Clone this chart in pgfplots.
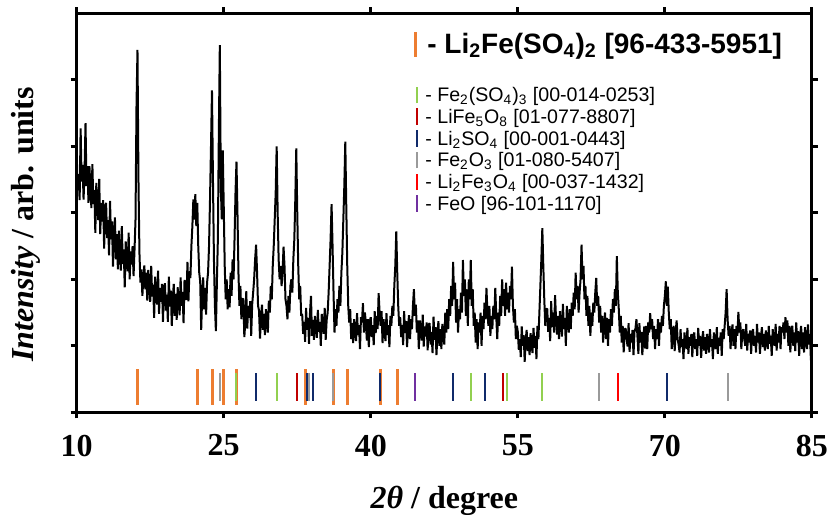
\documentclass[border=0pt]{standalone}
\usepackage{pgfplots}
\pgfplotsset{compat=1.18}
\usepackage{fontspec}
\setmainfont{Liberation Serif}
\newfontfamily\arialfont{Liberation Sans}
\definecolor{cOr}{HTML}{ED7D31}
\definecolor{cGr}{HTML}{92D050}
\definecolor{cDr}{HTML}{C00000}
\definecolor{cNv}{HTML}{102A6A}
\definecolor{cGy}{HTML}{9A9A9A}
\definecolor{cRd}{HTML}{FF0000}
\definecolor{cPu}{HTML}{7030A0}
\begin{document}
\begin{tikzpicture}
\begin{axis}[
  at={(0,0)}, anchor=south west,
  scale only axis, width=367.6pt, height=199.5pt,
  xmin=10, xmax=85, ymin=0, ymax=6,
  xtick={10,25,40,55,70,85},
  ytick={0,1,2,3,4,5}, yticklabels={},
  tick align=outside, major tick length=3pt,
  axis line style={line width=1.5pt},
  every tick/.style={black, line width=1.5pt},
  /pgf/number format/assume math mode=true,
  ticklabel style={font=\fontsize{16}{19}\selectfont\bfseries},
  xticklabel style={yshift=-4.7pt},
  xlabel={\fontsize{16}{19}\selectfont\bfseries{\itshape 2θ} / degree},
  xlabel style={at={(rel axis cs:0.5,0)}, anchor=base, yshift=-48pt},
  ylabel={\fontsize{16}{19}\selectfont\bfseries{\itshape Intensity} / arb. units},
  ylabel style={at={(rel axis cs:-0.0696,0.4707)}, anchor=center},
  refl/.style={draw=none, no markers, forget plot, error bars/.cd, y dir=both, error mark=none},
]
\addplot[black, line width=1pt, mark=none, line join=bevel] coordinates {
(10.0,3.90)(10.1,3.34)(10.2,3.58)(10.3,3.19)(10.4,4.27)(10.5,3.47)(10.6,3.72)(10.7,3.20)(10.8,3.62)(10.9,4.35)
(11.0,3.40)(11.1,3.70)(11.2,3.15)(11.3,3.70)(11.4,3.35)(11.5,3.07)(11.6,3.73)(11.7,3.13)(11.8,3.34)(11.9,2.70)
(12.0,3.45)(12.1,3.12)(12.2,2.89)(12.3,3.51)(12.4,2.68)(12.5,3.15)(12.6,2.87)(12.7,3.19)(12.8,2.46)(12.9,3.08)
(13.0,3.15)(13.1,2.62)(13.2,2.89)(13.3,2.36)(13.4,3.18)(13.5,2.60)(13.6,2.87)(13.7,2.19)(13.8,2.66)(13.9,2.93)
(14.0,2.30)(14.1,2.68)(14.2,2.15)(14.3,2.73)(14.4,2.40)(14.5,2.13)(14.6,2.80)(14.7,2.23)(14.8,2.45)(14.9,1.88)
(15.0,2.57)(15.1,2.30)(15.2,2.12)(15.3,2.70)(15.4,2.00)(15.5,2.42)(15.6,2.22)(15.7,2.50)(15.8,2.05)(15.9,2.45)
(16.0,2.90)(16.1,4.60)(16.2,5.45)(16.3,3.50)(16.4,2.40)(16.5,1.95)(16.6,2.15)(16.7,1.75)(16.8,2.03)(16.9,2.21)
(17.0,1.85)(17.1,2.10)(17.2,1.68)(17.3,2.14)(17.4,1.88)(17.5,1.66)(17.6,2.20)(17.7,1.74)(17.8,1.92)(17.9,1.42)
(18.0,2.04)(18.1,1.79)(18.2,1.62)(18.3,2.13)(18.4,1.48)(18.5,1.87)(18.6,1.66)(18.7,1.93)(18.8,1.36)(18.9,1.87)
(19.0,1.94)(19.1,1.53)(19.2,1.77)(19.3,1.36)(19.4,2.04)(19.5,1.59)(19.6,1.83)(19.7,1.30)(19.8,1.70)(19.9,1.93)
(20.0,1.45)(20.1,1.78)(20.2,1.39)(20.3,1.88)(20.4,1.65)(20.5,1.46)(20.6,2.03)(20.7,1.60)(20.8,1.81)(20.9,1.34)
(21.0,1.99)(21.1,1.80)(21.2,1.69)(21.3,2.26)(21.4,1.67)(21.5,2.12)(21.6,2.02)(21.7,2.50)(21.8,2.80)(21.9,3.20)
(22.0,2.90)(22.1,3.28)(22.2,2.80)(22.3,3.15)(22.4,2.50)(22.5,2.10)(22.6,1.96)(22.7,1.24)(22.8,1.75)(22.9,2.03)
(23.0,1.55)(23.1,1.87)(23.2,1.47)(23.3,1.95)(23.4,2.10)(23.5,2.50)(23.6,3.20)(23.7,4.00)(23.8,4.84)(23.9,3.50)
(24.0,2.30)(24.1,1.60)(24.2,1.22)(24.3,1.95)(24.4,2.60)(24.5,4.20)(24.6,5.52)(24.7,3.40)(24.8,2.90)(24.9,3.94)
(25.0,3.10)(25.1,2.20)(25.2,1.70)(25.3,2.00)(25.4,1.55)(25.5,1.85)(25.6,1.58)(25.7,2.10)(25.8,1.75)(25.9,2.30)
(26.0,2.00)(26.1,2.60)(26.2,3.30)(26.3,3.77)(26.4,3.00)(26.5,2.10)(26.6,1.60)(26.7,1.90)(26.8,1.40)(26.9,1.70)
(27.0,1.71)(27.1,1.13)(27.2,1.36)(27.3,1.82)(27.4,1.26)(27.5,1.60)(27.6,1.42)(27.7,1.67)(27.8,1.15)(27.9,1.62)
(28.0,1.80)(28.1,2.00)(28.2,2.30)(28.3,2.52)(28.4,2.10)(28.5,1.60)(28.6,1.53)(28.7,1.11)(28.8,1.43)(28.9,1.62)
(29.0,1.24)(29.1,1.48)(29.2,1.16)(29.3,1.55)(29.4,1.35)(29.5,1.20)(29.6,1.68)(29.7,1.50)(29.8,1.90)(29.9,1.70)
(30.0,2.20)(30.1,2.50)(30.2,2.90)(30.3,3.30)(30.4,4.00)(30.5,3.00)(30.6,2.30)(30.7,2.00)(30.8,2.20)(30.9,1.90)
(31.0,2.10)(31.1,2.49)(31.2,2.20)(31.3,1.70)(31.4,1.60)(31.5,1.40)(31.6,1.75)(31.7,1.50)(31.8,1.90)(31.9,2.00)
(32.0,1.80)(32.1,2.30)(32.2,2.60)(32.3,3.20)(32.4,3.97)(32.5,3.00)(32.6,2.20)(32.7,1.70)(32.8,1.90)(32.9,1.45)
(33.0,1.48)(33.1,1.18)(33.2,1.36)(33.3,1.06)(33.4,1.57)(33.5,1.24)(33.6,1.42)(33.7,1.03)(33.8,1.50)(33.9,1.75)
(34.0,1.15)(34.1,1.39)(34.2,1.09)(34.3,1.45)(34.4,1.27)(34.5,1.12)(34.6,1.54)(34.7,1.21)(34.8,1.36)(34.9,1.00)
(35.0,1.48)(35.1,1.30)(35.2,1.18)(35.3,1.57)(35.4,1.09)(35.5,1.39)(35.6,1.50)(35.7,1.80)(35.8,2.20)(35.9,2.60)
(36.0,3.13)(36.1,2.50)(36.2,1.80)(36.3,1.20)(36.4,1.55)(36.5,1.30)(36.6,1.70)(36.7,1.50)(36.8,1.90)(36.9,1.60)
(37.0,2.10)(37.1,2.40)(37.2,2.90)(37.3,3.40)(37.4,4.07)(37.5,3.10)(37.6,2.20)(37.7,1.60)(37.8,1.35)(37.9,1.55)
(38.0,1.10)(38.1,1.34)(38.2,1.04)(38.3,1.40)(38.4,1.22)(38.5,1.07)(38.6,1.49)(38.7,1.16)(38.8,1.31)(38.9,0.95)
(39.0,1.43)(39.1,1.35)(39.2,1.64)(39.3,1.20)(39.4,1.50)(39.5,1.34)(39.6,1.08)(39.7,1.40)(39.8,0.98)(39.9,1.37)
(40.0,1.43)(40.1,1.13)(40.2,1.31)(40.3,1.01)(40.4,1.52)(40.5,1.19)(40.6,1.45)(40.7,1.25)(40.8,1.79)(40.9,1.50)
(41.0,1.30)(41.1,1.52)(41.2,1.04)(41.3,1.40)(41.4,1.22)(41.5,1.07)(41.6,1.49)(41.7,1.16)(41.8,1.31)(41.9,0.98)
(42.0,1.45)(42.1,1.30)(42.2,1.60)(42.3,1.45)(42.4,1.90)(42.5,2.20)(42.6,2.72)(42.7,2.10)(42.8,1.60)(42.9,1.30)
(43.0,1.43)(43.1,1.13)(43.2,1.31)(43.3,1.01)(43.4,1.52)(43.5,1.19)(43.6,1.37)(43.7,0.98)(43.8,1.28)(43.9,1.46)
(44.0,1.10)(44.1,1.40)(44.2,1.25)(44.3,1.60)(44.4,1.85)(44.5,1.45)(44.6,1.62)(44.7,1.20)(44.8,1.38)(44.9,0.95)
(45.0,1.38)(45.1,1.20)(45.2,1.08)(45.3,1.47)(45.4,0.99)(45.5,1.29)(45.6,1.14)(45.7,1.35)(45.8,0.93)(45.9,1.32)
(46.0,1.34)(46.1,1.02)(46.2,1.21)(46.3,0.89)(46.4,1.44)(46.5,1.09)(46.6,1.28)(46.7,0.86)(46.8,1.18)(46.9,1.37)
(47.0,1.00)(47.1,1.25)(47.2,0.95)(47.3,1.33)(47.4,1.14)(47.5,1.02)(47.6,1.50)(47.7,1.20)(47.8,1.55)(47.9,1.25)
(48.0,1.70)(48.1,1.45)(48.2,1.90)(48.3,1.60)(48.4,2.26)(48.5,1.70)(48.6,1.95)(48.7,1.35)(48.8,1.70)(48.9,1.20)
(49.0,1.55)(49.1,1.40)(49.2,1.80)(49.3,1.50)(49.4,2.29)(49.5,1.75)(49.6,2.00)(49.7,1.45)(49.8,1.85)(49.9,1.30)
(50.0,2.00)(50.1,1.70)(50.2,2.29)(50.3,1.60)(50.4,1.85)(50.5,1.30)(50.6,1.50)(50.7,1.05)(50.8,1.40)(50.9,0.95)
(51.0,1.35)(51.1,1.20)(51.2,1.50)(51.3,1.00)(51.4,1.45)(51.5,1.25)(51.6,1.65)(51.7,1.40)(51.8,1.87)(51.9,1.50)
(52.0,1.30)(52.1,1.60)(52.2,1.15)(52.3,1.45)(52.4,1.25)(52.5,1.60)(52.6,1.40)(52.7,1.87)(52.8,1.45)(52.9,1.10)
(53.0,1.50)(53.1,1.30)(53.2,1.75)(53.3,1.45)(53.4,2.00)(53.5,1.60)(53.6,1.85)(53.7,1.45)(53.8,1.95)(53.9,1.55)
(54.0,1.80)(54.1,1.50)(54.2,1.90)(54.3,1.70)(54.4,2.19)(54.5,1.60)(54.6,1.35)(54.7,1.55)(54.8,1.10)(54.9,1.30)
(55.0,1.21)(55.1,0.94)(55.2,1.10)(55.3,0.83)(55.4,1.29)(55.5,1.00)(55.6,1.16)(55.7,0.76)(55.8,1.08)(55.9,1.24)
(56.0,0.92)(56.1,1.13)(56.2,0.86)(56.3,1.19)(56.4,1.02)(56.5,0.89)(56.6,1.27)(56.7,0.97)(56.8,1.15)(56.9,0.80)
(57.0,1.30)(57.1,1.10)(57.2,1.50)(57.3,1.90)(57.4,2.30)(57.5,2.77)(57.6,2.20)(57.7,1.70)(57.8,1.30)(57.9,1.55)
(58.0,1.56)(58.1,1.21)(58.2,1.42)(58.3,1.07)(58.4,1.67)(58.5,1.28)(58.6,1.50)(58.7,1.20)(58.8,1.76)(58.9,1.40)
(59.0,1.17)(59.1,1.45)(59.2,1.10)(59.3,1.52)(59.4,1.32)(59.5,1.14)(59.6,1.63)(59.7,1.25)(59.8,1.42)(59.9,1.00)
(60.0,1.60)(60.1,1.35)(60.2,1.20)(60.3,1.55)(60.4,1.25)(60.5,1.65)(60.6,1.45)(60.7,1.80)(60.8,1.55)(60.9,2.10)
(61.0,1.70)(61.1,1.90)(61.2,1.50)(61.3,1.80)(61.4,2.00)(61.5,2.52)(61.6,2.00)(61.7,2.20)(61.8,1.70)(61.9,1.90)
(62.0,1.45)(62.1,1.75)(62.2,1.30)(62.3,1.60)(62.4,1.15)(62.5,1.50)(62.6,1.30)(62.7,1.65)(62.8,1.50)(62.9,1.80)
(63.0,2.02)(63.1,1.60)(63.2,1.75)(63.3,1.35)(63.4,1.60)(63.5,1.20)(63.6,1.45)(63.7,1.05)(63.8,1.35)(63.9,1.50)
(64.0,1.10)(64.1,1.42)(64.2,1.00)(64.3,1.40)(64.4,1.20)(64.5,1.55)(64.6,1.30)(64.7,1.70)(64.8,1.50)(64.9,1.85)
(65.0,1.60)(65.1,2.35)(65.2,1.80)(65.3,1.55)(65.4,1.20)(65.5,1.45)(65.6,1.05)(65.7,1.30)(65.8,0.90)(65.9,1.25)
(66.0,1.26)(66.1,1.10)(66.2,0.99)(66.3,1.34)(66.4,0.91)(66.5,1.18)(66.6,1.05)(66.7,1.24)(66.8,0.86)(66.9,1.21)
(67.0,1.26)(67.1,1.40)(67.2,1.15)(67.3,0.88)(67.4,1.34)(67.5,1.05)(67.6,1.21)(67.7,0.86)(67.8,1.13)(67.9,1.29)
(68.0,0.96)(68.1,1.30)(68.2,0.95)(68.3,1.35)(68.4,1.20)(68.5,1.49)(68.6,1.25)(68.7,1.40)(68.8,1.10)(68.9,1.30)
(69.0,0.95)(69.1,1.25)(69.2,1.10)(69.3,1.40)(69.4,1.00)(69.5,1.35)(69.6,1.20)(69.7,1.45)(69.8,1.30)(69.9,1.60)
(70.0,1.75)(70.1,1.97)(70.2,1.60)(70.3,1.89)(70.4,1.50)(70.5,1.25)(70.6,1.40)(70.7,0.95)(70.8,1.20)(70.9,1.30)
(71.0,0.92)(71.1,1.20)(71.2,1.38)(71.3,1.10)(71.4,1.02)(71.5,0.90)(71.6,1.25)(71.7,0.98)(71.8,1.10)(71.9,0.80)
(72.0,1.20)(72.1,1.05)(72.2,0.95)(72.3,1.27)(72.4,0.88)(72.5,1.13)(72.6,1.00)(72.7,1.18)(72.8,0.83)(72.9,1.15)
(73.0,1.20)(73.1,0.95)(73.2,1.10)(73.3,0.85)(73.4,1.27)(73.5,1.00)(73.6,1.15)(73.7,0.82)(73.8,1.08)(73.9,1.22)
(74.0,0.93)(74.1,1.13)(74.2,0.88)(74.3,1.18)(74.4,1.03)(74.5,0.90)(74.6,1.25)(74.7,0.98)(74.8,1.10)(74.9,0.80)
(75.0,1.20)(75.1,1.05)(75.2,0.95)(75.3,1.28)(75.4,0.88)(75.5,1.12)(75.6,1.00)(75.7,1.20)(75.8,0.85)(75.9,1.25)
(76.0,1.10)(76.1,1.30)(76.2,1.50)(76.3,1.85)(76.4,1.40)(76.5,1.15)(76.6,1.30)(76.7,0.95)(76.8,1.20)(76.9,1.32)
(77.0,1.00)(77.1,1.25)(77.2,0.95)(77.3,1.30)(77.4,1.15)(77.5,1.51)(77.6,1.20)(77.7,1.35)(77.8,0.95)(77.9,1.20)
(78.0,1.25)(78.1,1.10)(78.2,1.00)(78.3,1.33)(78.4,0.93)(78.5,1.18)(78.6,1.05)(78.7,1.23)(78.8,0.88)(78.9,1.20)
(79.0,1.25)(79.1,1.00)(79.2,1.15)(79.3,0.90)(79.4,1.33)(79.5,1.05)(79.6,1.20)(79.7,0.88)(79.8,1.13)(79.9,1.28)
(80.0,0.98)(80.1,1.18)(80.2,0.93)(80.3,1.23)(80.4,1.08)(80.5,0.95)(80.6,1.30)(80.7,1.03)(80.8,1.15)(80.9,0.85)
(81.0,1.25)(81.1,1.10)(81.2,1.00)(81.3,1.33)(81.4,0.93)(81.5,1.18)(81.6,1.05)(81.7,1.30)(81.8,0.95)(81.9,1.28)
(82.0,1.20)(82.1,1.35)(82.2,1.10)(82.3,1.43)(82.4,1.20)(82.5,1.38)(82.6,1.00)(82.7,1.30)(82.8,0.90)(82.9,1.25)
(83.0,1.30)(83.1,1.00)(83.2,1.20)(83.3,0.92)(83.4,1.35)(83.5,1.05)(83.6,1.22)(83.7,0.85)(83.8,1.15)(83.9,1.30)
(84.0,0.95)(84.1,1.20)(84.2,0.90)(84.3,1.28)(84.4,1.10)(84.5,0.95)(84.6,1.32)(84.7,1.02)(84.8,1.18)(84.9,0.78)
(85.0,1.25)
};
% reference lines
\addplot[refl, y fixed=0.27, error bar style={draw=cOr, line width=1.5pt}] coordinates {
(16.25,0.38)(22.36,0.38)(23.89,0.38)(24.95,0.38)(26.30,0.38)(33.37,0.38)(36.16,0.38)(37.65,0.38)(40.98,0.38)(42.71,0.38)};
\addplot[refl, y fixed=0.208, error bar style={draw=cGy, line width=1pt}] coordinates {
(24.64,0.382)(33.67,0.382)(36.16,0.382)(63.23,0.382)(76.41,0.382)};
\addplot[refl, y fixed=0.208, error bar style={draw=cGr, line width=1pt}] coordinates {
(26.30,0.382)(30.48,0.382)(50.25,0.382)(53.85,0.382)(57.49,0.382)};
\addplot[refl, y fixed=0.208, error bar style={draw=cDr, line width=1pt}] coordinates {
(32.52,0.382)(53.51,0.382)};
\addplot[refl, y fixed=0.208, error bar style={draw=cNv, line width=1pt}] coordinates {
(28.31,0.382)(33.51,0.382)(34.15,0.382)(40.98,0.382)(48.35,0.382)(51.61,0.382)(70.19,0.382)};
\addplot[refl, y fixed=0.208, error bar style={draw=cPu, line width=1pt}] coordinates {(44.55,0.382)};
\addplot[refl, y fixed=0.208, error bar style={draw=cRd, line width=1pt}] coordinates {(65.26,0.382)};
% legend
\node[anchor=base west, inner sep=0pt, font=\arialfont\bfseries\fontsize{14}{16}\selectfont] at (rel axis cs:0.4587,0.8997)
  {\textcolor{cOr}{\rule[-1.7pt]{1.5pt}{12.5pt}}\hspace{5pt}- Li\textsubscript{2}Fe(SO\textsubscript{4})\textsubscript{2} [96-433-5951]};
\tikzset{lg/.style={anchor=base west, inner sep=0pt, font=\arialfont\fontsize{9.8}{11}\selectfont}}
\node[lg] at (rel axis cs:0.4615,0.7784) {\textcolor{cGr}{\rule[-0.8pt]{1pt}{8.3pt}}\hspace{3.5pt}- Fe\textsubscript{2}(SO\textsubscript{4})\textsubscript{3} [00-014-0253]};
\node[lg] at (rel axis cs:0.4615,0.7240) {\textcolor{cDr}{\rule[-0.8pt]{1pt}{8.3pt}}\hspace{3.5pt}- LiFe\textsubscript{5}O\textsubscript{8} [01-077-8807]};
\node[lg] at (rel axis cs:0.4615,0.6696) {\textcolor{cNv}{\rule[-0.8pt]{1pt}{8.3pt}}\hspace{3.5pt}- Li\textsubscript{2}SO\textsubscript{4} [00-001-0443]};
\node[lg] at (rel axis cs:0.4615,0.6152) {\textcolor{cGy}{\rule[-0.8pt]{1pt}{8.3pt}}\hspace{3.5pt}- Fe\textsubscript{2}O\textsubscript{3} [01-080-5407]};
\node[lg] at (rel axis cs:0.4615,0.5608) {\textcolor{cRd}{\rule[-0.8pt]{1pt}{8.3pt}}\hspace{3.5pt}- Li\textsubscript{2}Fe\textsubscript{3}O\textsubscript{4} [00-037-1432]};
\node[lg] at (rel axis cs:0.4615,0.5064) {\textcolor{cPu}{\rule[-0.8pt]{1pt}{8.3pt}}\hspace{3.5pt}- FeO [96-101-1170]};
\end{axis}
\pgfresetboundingbox
\path[use as bounding box] (-38.35pt,-50.85pt) rectangle (378.15pt,206.15pt);
\end{tikzpicture}
\end{document}
